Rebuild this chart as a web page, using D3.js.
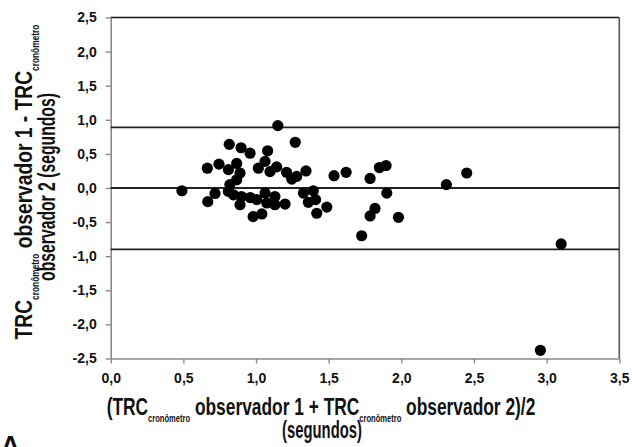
<!DOCTYPE html>
<html>
<head>
<meta charset="utf-8">
<script src="https://cdn.jsdelivr.net/npm/d3@7"></script>
<style>
  html, body { margin: 0; padding: 0; background: #fff; }
  svg { display: block; }
  text { font-family: "Liberation Sans", Arial, sans-serif; font-weight: bold; fill: #111; }
</style>
</head>
<body>
<svg id="chart" width="632" height="447"></svg>
<script>
// Mean of the two observers (seconds)
const meanValues = [0.49, 0.665, 0.745, 0.668, 0.718, 0.816, 0.897, 0.959, 1.08, 1.15, 1.27,
  0.81, 0.867, 0.89, 0.867, 0.82, 0.81, 0.845, 0.90, 0.89, 0.96, 1.005, 1.062, 1.074, 1.13, 1.13,
  1.20, 0.98, 1.04, 1.016, 1.062, 1.096, 1.142, 1.21, 1.246, 1.28, 1.344, 1.537, 1.62,
  1.326, 1.394, 1.36, 1.41, 1.418, 1.487, 1.785, 1.849, 1.895, 1.90, 1.819, 1.785, 1.98,
  1.727, 2.31, 2.45, 3.10, 2.957];
// Difference observer 1 - observer 2 (seconds)
const diffValues = [-0.04, 0.29, 0.35, -0.20, -0.08, 0.64, 0.59, 0.51, 0.545, 0.915, 0.67,
  0.27, 0.36, 0.22, 0.12, 0.05, -0.05, -0.10, -0.125, -0.245, -0.14, -0.17, -0.075, -0.22, -0.125, -0.245,
  -0.235, -0.42, -0.38, 0.29, 0.39, 0.24, 0.31, 0.23, 0.13, 0.17, 0.25, 0.18, 0.23,
  -0.075, -0.04, -0.21, -0.17, -0.37, -0.28, 0.14, 0.30, 0.33, -0.075, -0.30, -0.41, -0.43,
  -0.70, 0.05, 0.22, -0.82, -2.38];
// Mean difference and limits of agreement
const refLines = [0.89, 0.0, -0.90];
const xTicks = [0, 0.5, 1.0, 1.5, 2.0, 2.5, 3.0, 3.5];
const yTicks = [2.5, 2.0, 1.5, 1.0, 0.5, 0.0, -0.5, -1.0, -1.5, -2.0, -2.5];

const svg = d3.select("#chart");
const mLeft = 110.7, mRight = 619.3, mTop = 17.5, mBottom = 358.5;

const x = d3.scaleLinear().domain([0, 3.5]).range([mLeft, mRight]);
const y = d3.scaleLinear().domain([-2.5, 2.5]).range([mBottom, mTop]);

const fmt = d3.formatLocale({decimal: ",", thousands: ".", grouping: [3], currency: ["", ""], minus: "-"}).format(".1f");

// border top/right
svg.append("line").attr("x1", mLeft).attr("x2", mRight).attr("y1", mTop).attr("y2", mTop)
  .attr("stroke", "#111").attr("stroke-width", 1.6);
svg.append("line").attr("x1", mRight).attr("x2", mRight).attr("y1", mTop).attr("y2", mBottom)
  .attr("stroke", "#555").attr("stroke-width", 1.6);

// axes
const yAxis = svg.append("g").attr("transform", `translate(${mLeft},0)`)
  .call(d3.axisLeft(y).tickValues(yTicks).tickFormat(fmt).tickSize(5).tickPadding(9).tickSizeOuter(0));
const xAxis = svg.append("g").attr("transform", `translate(0,${mBottom})`)
  .call(d3.axisBottom(x).tickValues(xTicks).tickFormat(fmt).tickSize(5).tickPadding(10).tickSizeOuter(0));
[yAxis, xAxis].forEach(g => {
  g.select(".domain").attr("stroke", "#8a8a8a").attr("stroke-width", 1.6);
  g.selectAll(".tick line").attr("stroke", "#8a8a8a").attr("stroke-width", 1.4);
  g.selectAll(".tick text").style("font-size", "14px").attr("fill", "#111")
    .style("font-family", "'Liberation Sans', Arial, sans-serif").style("font-weight", "bold");
});

// reference lines
svg.append("g").selectAll("line").data(refLines).join("line")
  .attr("x1", mLeft).attr("x2", mRight)
  .attr("y1", d => y(d)).attr("y2", d => y(d))
  .attr("stroke", "#222").attr("stroke-width", 1.8);

// points
svg.append("g").selectAll("circle").data(d3.range(meanValues.length)).join("circle")
  .attr("cx", i => x(meanValues[i])).attr("cy", i => y(diffValues[i]))
  .attr("r", 5.6).attr("fill", "#000");

// titles: condensed look obtained by horizontally fitting to the reference width
const BIG = 23, SMALL = 10, SUB = 7;
function addTitle(parent, parts, width) {
  const t = parent.append("text").attr("x", 0).attr("y", 0).attr("text-anchor", "middle");
  let shifted = false;
  parts.forEach(p => {
    const ts = t.append("tspan").text(p.t).style("font-size", (p.sub ? SMALL : BIG) + "px");
    if (p.sub && !shifted) { ts.attr("dy", SUB); shifted = true; }
    else if (!p.sub && shifted) { ts.attr("dy", -SUB); shifted = false; }
  });
  const w = t.node().getComputedTextLength();
  t.attr("transform", `scale(${width / w},1)`);
  return t;
}
const xg1 = svg.append("g").attr("transform", "translate(321,415)");
addTitle(xg1, [{t: "(TRC"}, {t: "cronômetro", sub: true}, {t: " observador 1 + TRC"},
  {t: "cronômetro", sub: true}, {t: " observador 2)/2"}], 429);
const xg2 = svg.append("g").attr("transform", "translate(322,438)");
addTitle(xg2, [{t: "(segundos)"}], 80);

const yg1 = svg.append("g").attr("transform", "translate(32,182) rotate(-90)");
addTitle(yg1, [{t: "TRC"}, {t: "cronômetro", sub: true}, {t: " observador 1 - TRC"},
  {t: "cronômetro", sub: true}], 315);
const yg2 = svg.append("g").attr("transform", "translate(55,187) rotate(-90)");
addTitle(yg2, [{t: "observador 2 (segundos)"}], 188);

svg.append("text").attr("x", 1).attr("y", 454).style("font-size", "26px").text("A");
</script>
</body>
</html>
